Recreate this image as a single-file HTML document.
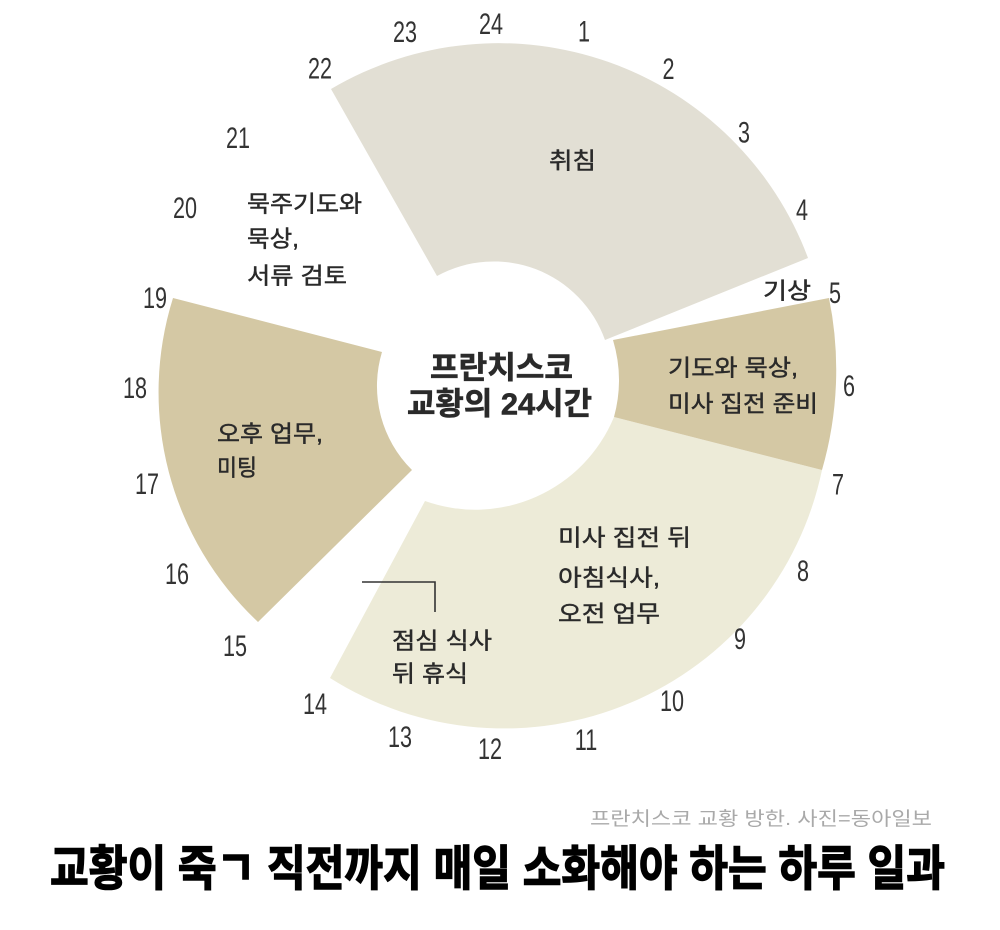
<!DOCTYPE html>
<html>
<head>
<meta charset="utf-8">
<style>
  html,body{margin:0;padding:0;background:#ffffff;}
  svg{display:block;}
  .kr{font-family:"Liberation Sans","Noto Sans CJK KR",sans-serif;fill:#2a2a2a;}
  .num{font-family:"Liberation Sans",sans-serif;fill:#333333;font-size:30px;}
</style>
</head>
<body>
<svg width="1000" height="930" viewBox="0 0 1000 930" xmlns="http://www.w3.org/2000/svg">
  <rect x="0" y="0" width="1000" height="930" fill="#ffffff"/>

  <!-- wedges -->
  <path d="M331,89 A330,330 0 0 1 808,258 L605,340 A118,118 0 0 0 437,276 Z" fill="#e2dfd4"/>
  <path d="M822,470 A325,325 0 0 1 330,678 L425,501 A150,150 0 0 0 614,417 Z" fill="#edebd8"/>
  <path d="M829,298 A360,360 0 0 1 822,470 L614,417 A140,140 0 0 0 613,340 Z" fill="#d4c8a4"/>
  <path d="M173,298 L382,352 A118,118 0 0 0 412,470 L258,622 A315,315 0 0 1 173,298 Z" fill="#d4c8a4"/>

  <!-- callout -->
  <polyline points="362,582 435,582 435,612" fill="none" stroke="#333" stroke-width="1.6"/>

  <!-- hour labels (condensed via scaleX 0.72) -->
  <g transform="scale(0.72,1)" text-anchor="middle" class="num">
    <text class="num" x="811.1" y="41.7">1</text>
    <text class="num" x="928.5" y="79.2">2</text>
    <text class="num" x="1033.3" y="142.7">3</text>
    <text class="num" x="1113.9" y="220.2">4</text>
    <text class="num" x="1159.7" y="303.2">5</text>
    <text class="num" x="1179.2" y="396.2">6</text>
    <text class="num" x="1163.9" y="494.7">7</text>
    <text class="num" x="1115.3" y="581.2">8</text>
    <text class="num" x="1027.8" y="649.2">9</text>
    <text class="num" x="933.3" y="711.2">10</text>
    <text class="num" x="813.9" y="750.2">11</text>
    <text class="num" x="680.6" y="759.2">12</text>
    <text class="num" x="555.6" y="747.2">13</text>
    <text class="num" x="437.5" y="714.2">14</text>
    <text class="num" x="326.4" y="656.2">15</text>
    <text class="num" x="245.8" y="584.2">16</text>
    <text class="num" x="204.2" y="494.2">17</text>
    <text class="num" x="187.5" y="398.2">18</text>
    <text class="num" x="215.3" y="308.2">19</text>
    <text class="num" x="256.9" y="218.2">20</text>
    <text class="num" x="330.6" y="148.2">21</text>
    <text class="num" x="444.4" y="78.7">22</text>
    <text class="num" x="562.5" y="42.2">23</text>
    <text class="num" x="682.0" y="34.2">24</text>
  </g>

  <!-- segment labels -->
  <g class="kr" font-size="23" stroke="#2a2a2a" stroke-width="0.45">
    <text x="549" y="168.5" textLength="47" lengthAdjust="spacingAndGlyphs">취침</text>
    <text x="247" y="211.5" textLength="115" lengthAdjust="spacingAndGlyphs">묵주기도와</text>
    <text x="247" y="246.5" textLength="52" lengthAdjust="spacingAndGlyphs">묵상,</text>
    <text x="247" y="283.5" textLength="100" lengthAdjust="spacingAndGlyphs">서류 검토</text>
    <text x="763" y="298.5" textLength="48" lengthAdjust="spacingAndGlyphs">기상</text>
    <text x="668" y="375.5" textLength="130" lengthAdjust="spacingAndGlyphs">기도와 묵상,</text>
    <text x="668" y="411.5" textLength="150" lengthAdjust="spacingAndGlyphs">미사 집전 준비</text>
    <text x="217" y="441.5" textLength="106" lengthAdjust="spacingAndGlyphs">오후 업무,</text>
    <text x="217" y="475.5" textLength="40" lengthAdjust="spacingAndGlyphs">미팅</text>
    <text x="558" y="545.5" textLength="133" lengthAdjust="spacingAndGlyphs">미사 집전 뒤</text>
    <text x="558" y="585.5" textLength="102" lengthAdjust="spacingAndGlyphs">아침식사,</text>
    <text x="558" y="621.5" textLength="102" lengthAdjust="spacingAndGlyphs">오전 업무</text>
    <text x="392" y="648.5" textLength="100" lengthAdjust="spacingAndGlyphs">점심 식사</text>
    <text x="392" y="681.5" textLength="76" lengthAdjust="spacingAndGlyphs">뒤 휴식</text>
  </g>

  <!-- center title -->
  <g class="kr" font-size="31" font-weight="bold" stroke="#2a2a2a" stroke-width="0.6">
    <text x="430" y="378.5" textLength="143" lengthAdjust="spacingAndGlyphs">프란치스코</text>
    <text x="407" y="414.5" textLength="185" lengthAdjust="spacingAndGlyphs">교황의 24시간</text>
  </g>

  <!-- caption -->
  <text x="590" y="825" font-size="19" textLength="342" lengthAdjust="spacingAndGlyphs"
        style="font-family:'Liberation Sans','Noto Sans CJK KR',sans-serif;fill:#a9a9a9;">프란치스코 교황 방한. 사진=동아일보</text>

  <!-- main title -->
  <text x="50" y="885" font-size="48" font-weight="bold" textLength="895" lengthAdjust="spacingAndGlyphs"
        stroke="#000" stroke-width="1.4"
        style="font-family:'Liberation Sans','Noto Sans CJK KR',sans-serif;fill:#000000;">교황이 죽ㄱ 직전까지 매일 소화해야 하는 하루 일과</text>
</svg>
</body>
</html>
